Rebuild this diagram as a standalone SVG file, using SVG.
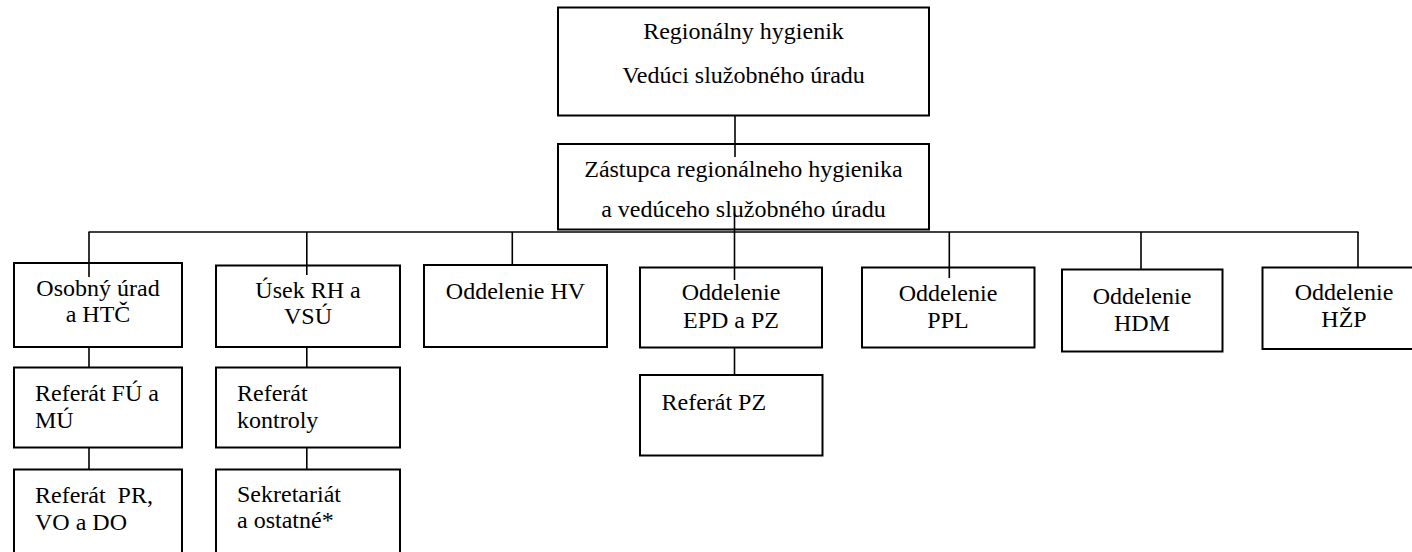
<svg xmlns="http://www.w3.org/2000/svg" width="1412" height="552" viewBox="0 0 1412 552">
<style>
.box{fill:#fff;stroke:#000;stroke-width:2}
.t{font-family:'Liberation Serif',Tinos,'Times New Roman','DejaVu Serif',serif;font-size:24px;fill:#000}
.c{text-anchor:middle}
.ln{stroke:#000;stroke-width:1.6;fill:none}
</style>
<rect x="0" y="0" width="1412" height="552" fill="#fff"/>
<g id="n-rh">
<rect class="box" x="558" y="7.5" width="371" height="108"/>
<text class="t c" x="743.5" y="39">Regionálny hygienik</text>
<text class="t c" x="743.5" y="83">Vedúci služobného úradu</text>
</g>
<g id="n-zast">
<rect class="box" x="558" y="144" width="371" height="85.5"/>
<text class="t c" x="743.5" y="177">Zástupca regionálneho hygienika</text>
<text class="t c" x="743.5" y="217">a vedúceho služobného úradu</text>
</g>
<g id="n-osob">
<rect class="box" x="14" y="263" width="168" height="84"/>
<text class="t c" x="98" y="296">Osobný úrad</text>
<text class="t c" x="98" y="322">a HTČ</text>
</g>
<g id="n-fu">
<rect class="box" x="14" y="367.5" width="168" height="80"/>
<text class="t" x="35" y="401">Referát FÚ a</text>
<text class="t" x="35" y="428">MÚ</text>
</g>
<g id="n-pr">
<rect class="box" x="14" y="469.5" width="168" height="90"/>
<text class="t" x="35" y="503" style="white-space:pre">Referát  PR,</text>
<text class="t" x="35" y="530">VO a DO</text>
</g>
<g id="n-usek">
<rect class="box" x="216" y="265.5" width="184" height="81.5"/>
<text class="t c" x="308" y="298">Úsek RH a</text>
<text class="t c" x="308" y="323.5">VSÚ</text>
</g>
<g id="n-kontr">
<rect class="box" x="216" y="367.5" width="184" height="80"/>
<text class="t" x="237" y="401">Referát</text>
<text class="t" x="237" y="428">kontroly</text>
</g>
<g id="n-sekr">
<rect class="box" x="216" y="469.5" width="184" height="90"/>
<text class="t" x="237" y="502">Sekretariát</text>
<text class="t" x="237" y="528">a ostatné*</text>
</g>
<g id="n-hv">
<rect class="box" x="424" y="265" width="183" height="82"/>
<text class="t c" x="515.5" y="298.5">Oddelenie HV</text>
</g>
<g id="n-epd">
<rect class="box" x="640" y="267.5" width="182" height="80"/>
<text class="t c" x="731" y="300">Oddelenie</text>
<text class="t c" x="731" y="327.5">EPD a PZ</text>
</g>
<g id="n-pz">
<rect class="box" x="640" y="375" width="182.5" height="80.5"/>
<text class="t" x="661.5" y="409.5">Referát PZ</text>
</g>
<g id="n-ppl">
<rect class="box" x="862" y="267.5" width="172.5" height="80"/>
<text class="t c" x="948" y="301">Oddelenie</text>
<text class="t c" x="948" y="328">PPL</text>
</g>
<g id="n-hdm">
<rect class="box" x="1062" y="269.5" width="160.5" height="82"/>
<text class="t c" x="1142" y="303.5">Oddelenie</text>
<text class="t c" x="1142" y="331">HDM</text>
</g>
<g id="n-hzp">
<rect class="box" x="1262.5" y="267.5" width="163" height="81.5"/>
<text class="t c" x="1344" y="300">Oddelenie</text>
<text class="t c" x="1344" y="327">HŽP</text>
</g>
<g id="connectors">
<line class="ln" x1="735" y1="115.5" x2="735" y2="157"/>
<line class="ln" x1="734.5" y1="213" x2="734.5" y2="280"/>
<line class="ln" x1="88.5" y1="232" x2="1358.5" y2="232"/>
<line class="ln" x1="89" y1="232" x2="89" y2="277"/>
<line class="ln" x1="306.8" y1="232" x2="306.8" y2="275"/>
<line class="ln" x1="512.3" y1="232" x2="512.3" y2="265"/>
<line class="ln" x1="949.3" y1="232" x2="949.3" y2="278"/>
<line class="ln" x1="1141" y1="232" x2="1141" y2="269.5"/>
<line class="ln" x1="1358" y1="232" x2="1358" y2="267.5"/>
<line class="ln" x1="89" y1="347" x2="89" y2="367.5"/>
<line class="ln" x1="89" y1="447.5" x2="89" y2="469.5"/>
<line class="ln" x1="306.8" y1="347" x2="306.8" y2="367.5"/>
<line class="ln" x1="306.8" y1="447.5" x2="306.8" y2="469.5"/>
<line class="ln" x1="734.5" y1="347.5" x2="734.5" y2="375"/>
</g>
</svg>
